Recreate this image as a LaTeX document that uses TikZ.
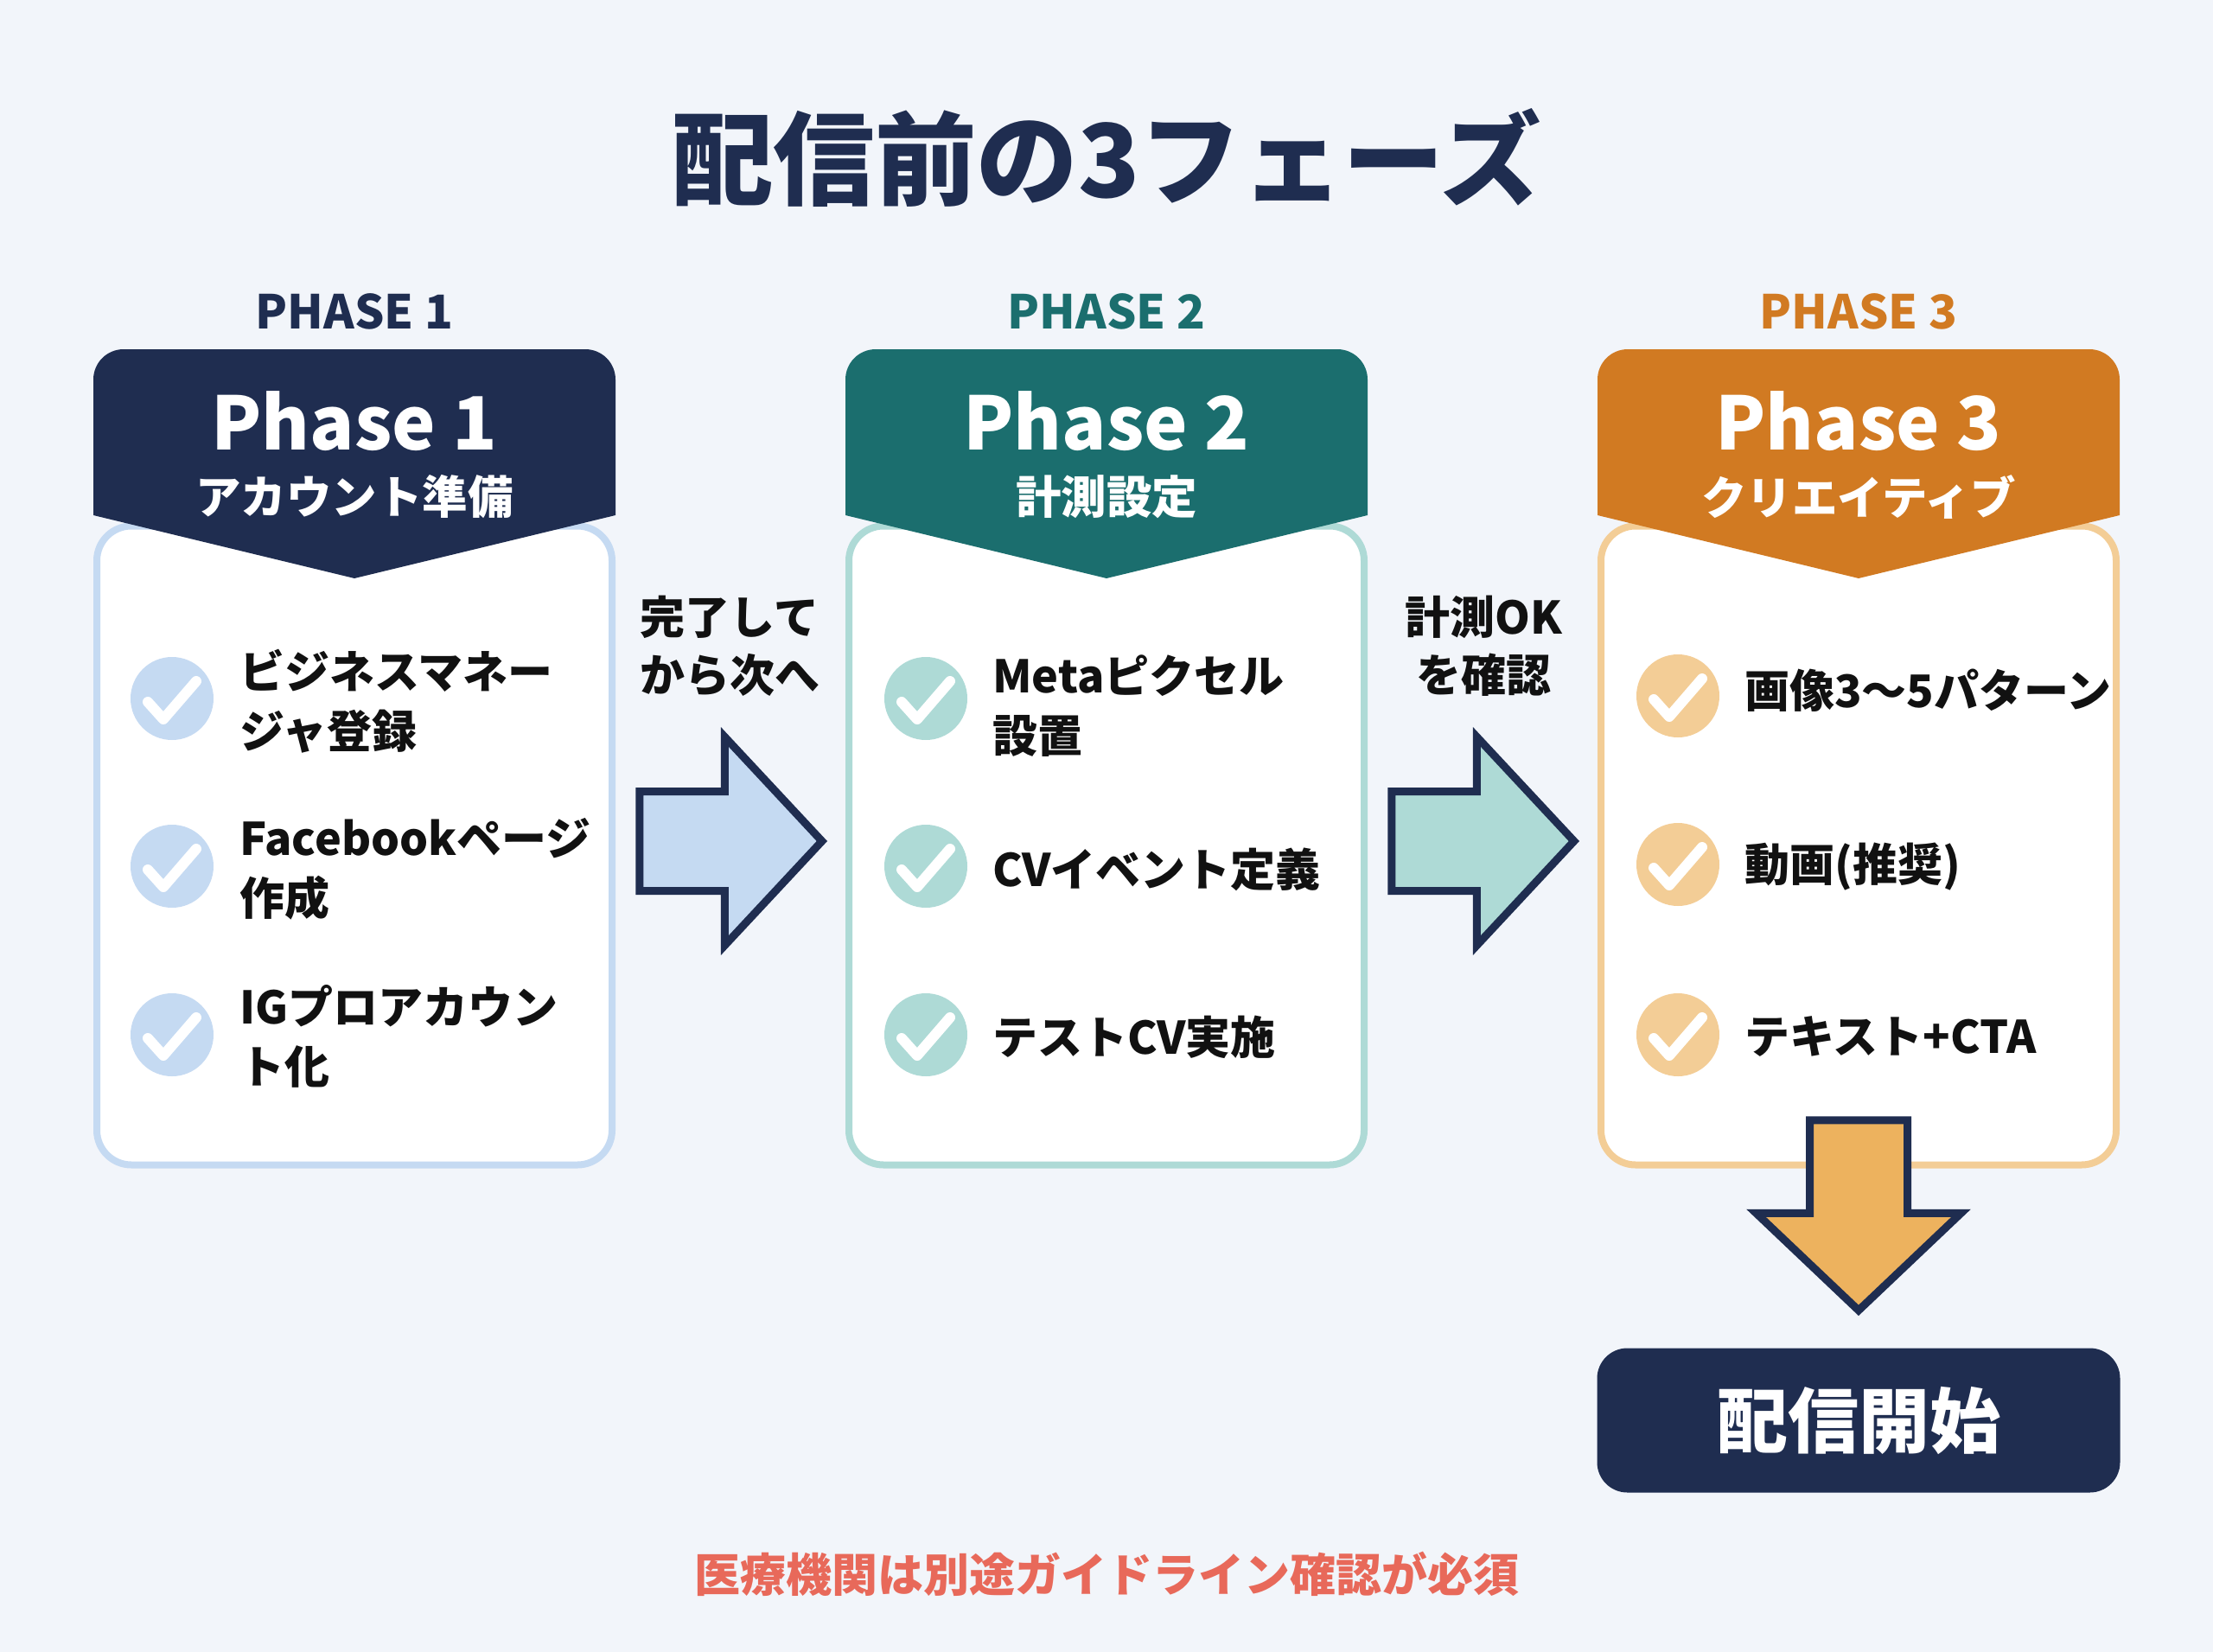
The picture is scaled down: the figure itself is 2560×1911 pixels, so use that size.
\documentclass[tikz,border=0pt]{standalone}
\usepackage{fontspec}
\setmainfont{Noto Sans CJK JP}
\newfontfamily\heavyfont{Noto Sans CJK JP Black}
\usepackage{tikz}
\usetikzlibrary{shapes,arrows,arrows.meta,calc}

\definecolor{pagebg}{HTML}{F2F5FA}
\definecolor{navy}{HTML}{1F2D50}
\definecolor{teal}{HTML}{1B6E6E}
\definecolor{amber}{HTML}{D17A22}
\definecolor{navylight}{HTML}{C5DAF2}
\definecolor{teallight}{HTML}{AEDAD6}
\definecolor{amberlight}{HTML}{F3CD96}
\definecolor{amberfill}{HTML}{EDB25E}
\definecolor{notered}{HTML}{E8695A}
\definecolor{inktext}{HTML}{111111}

\begin{document}
\begin{tikzpicture}
  [
    x=1pt, y=-1pt,
    card/.style =
      {draw, rectangle, fill=white, line width=8pt, rounded corners=40pt,
       minimum width=596pt, minimum height=739pt},
    toplabel/.style =
      {font=\bfseries\fontsize{54}{60}\selectfont, inner sep=0pt},
    headname/.style =
      {text=white, font=\bfseries\fontsize{85}{90}\selectfont, inner sep=0pt},
    headsub/.style =
      {text=white, font=\bfseries\fontsize{52.5}{60}\selectfont, inner sep=0pt},
    tick/.style =
      {circle, minimum size=96pt, inner sep=0pt},
    tickline/.style =
      {draw=white, line width=12pt, line cap=round, line join=round},
    item/.style =
      {anchor=west, align=left, inner sep=0pt, text=inktext,
       font=\bfseries\fontsize{52}{69}\selectfont},
    steplabel/.style =
      {align=center, inner sep=0pt, text=inktext,
       font=\bfseries\fontsize{52}{67}\selectfont},
    blockarrow/.style =
      {single arrow, draw=navy, line width=9pt, miter limit=10,
       inner xsep=0pt, inner ysep=53pt, minimum height=211pt,
       single arrow head extend=63pt, single arrow tip angle=94, anchor=tip}
  ]

\useasboundingbox (0,0) rectangle (2560,1911);
\fill[pagebg] (0,0) rectangle (2560,1911);

\node[text=navy, font=\heavyfont\fontsize{117.5}{120}\selectfont, inner sep=0pt] (title) at (1280,182) {配信前の3フェーズ};

% phase 1
\node[toplabel, text=navy] (labelone) at (410,360) {PHASE 1};
\node[card, draw=navylight] (cardone) at (410,978) {};
\fill[navy] (108,596) [rounded corners=35pt] -- (108,404) -- (712,404) [sharp corners] -- (712,596) -- (410,669) -- cycle;
\node[headname] (headone) at (410,487) {Phase 1};
\node[headsub] (subone) at (410,575) {アカウント準備};

\node[tick, fill=navylight] (oneA) at (199,808) {};
\node[tick, fill=navylight] (oneB) at (199,1002) {};
\node[tick, fill=navylight] (oneC) at (199,1197) {};
\draw[tickline] ($(oneA)+(-28,4)$) -- ++(18,20) -- ++(38,-44);
\draw[tickline] ($(oneB)+(-28,4)$) -- ++(18,20) -- ++(38,-44);
\draw[tickline] ($(oneC)+(-28,4)$) -- ++(18,20) -- ++(38,-44);
\node[item] (textoneA) at ($(oneA)+(78,3)$) {ビジネスマネー\\ジャ登録};
\node[item] (textoneB) at ($(oneB)+(78,3)$) {Facebookページ\\作成};
\node[item] (textoneC) at ($(oneC)+(78,2)$) {IGプロアカウン\\ト化};

% phase 2
\node[toplabel, text=teal] (labeltwo) at (1280,360) {PHASE 2};
\node[card, draw=teallight] (cardtwo) at (1280,978) {};
\fill[teal] (978,596) [rounded corners=35pt] -- (978,404) -- (1582,404) [sharp corners] -- (1582,596) -- (1280,669) -- cycle;
\node[headname] (headtwo) at (1280,487) {Phase 2};
\node[headsub] (subtwo) at (1280,575) {計測設定};

\node[tick, fill=teallight] (twoA) at (1071,808) {};
\node[tick, fill=teallight] (twoB) at (1071,1002) {};
\node[tick, fill=teallight] (twoC) at (1071,1197) {};
\draw[tickline] ($(twoA)+(-28,4)$) -- ++(18,20) -- ++(38,-44);
\draw[tickline] ($(twoB)+(-28,4)$) -- ++(18,20) -- ++(38,-44);
\draw[tickline] ($(twoC)+(-28,4)$) -- ++(18,20) -- ++(38,-44);
\node[item] (texttwoA) at ($(twoA)+(77,9)$) {Metaピクセル\\設置};
\node[item] (texttwoB) at ($(twoB)+(77,4)$) {CVイベント定義};
\node[item] (texttwoC) at ($(twoC)+(77,3)$) {テストCV実施};

% phase 3
\node[toplabel, text=amber] (labelthree) at (2150,360) {PHASE 3};
\node[card, draw=amberlight] (cardthree) at (2150,978) {};
\fill[amber] (1848,596) [rounded corners=35pt] -- (1848,404) -- (2452,404) [sharp corners] -- (2452,596) -- (2150,669) -- cycle;
\node[headname] (headthree) at (2150,487) {Phase 3};
\node[headsub] (subthree) at (2150,575) {クリエイティブ};

\node[tick, fill=amberlight] (threeA) at (1941,805) {};
\node[tick, fill=amberlight] (threeB) at (1941,1000) {};
\node[tick, fill=amberlight] (threeC) at (1941,1197) {};
\draw[tickline] ($(threeA)+(-28,4)$) -- ++(18,20) -- ++(38,-44);
\draw[tickline] ($(threeB)+(-28,4)$) -- ++(18,20) -- ++(38,-44);
\draw[tickline] ($(threeC)+(-28,4)$) -- ++(18,20) -- ++(38,-44);
\node[item] (textthreeA) at ($(threeA)+(77,-6)$) {画像3〜5パターン};
\node[item] (textthreeB) at ($(threeB)+(77,3)$) {動画(推奨)};
\node[item] (textthreeC) at ($(threeC)+(77,2)$) {テキスト+CTA};

% between the phases
\node[steplabel] (stepone) at (844,747) {完了して\\から次へ};
\node[steplabel] (steptwo) at (1716,747) {計測OK\\を確認};
\node[blockarrow, fill=navylight] (arrowone) at (957,973) {};
\node[blockarrow, fill=teallight] (arrowtwo) at (1827,973) {};
\node[blockarrow, fill=amberfill, shape border rotate=270, minimum height=220pt, inner xsep=52pt, inner ysep=0pt, single arrow head extend=62pt, single arrow tip angle=93] (arrowthree) at (2150,1522) {};

\node[fill=navy, rounded corners=35pt, minimum width=605pt, minimum height=167pt, inner sep=0pt, text=white, font=\heavyfont\fontsize{82}{90}\selectfont] (start) at (2150,1643) {配信開始};

\node[text=notered, font=\bfseries\fontsize{53}{60}\selectfont, inner sep=0pt] (note) at (1280,1821) {医療機関は別途ガイドライン確認が必須};

\end{tikzpicture}
\end{document}
